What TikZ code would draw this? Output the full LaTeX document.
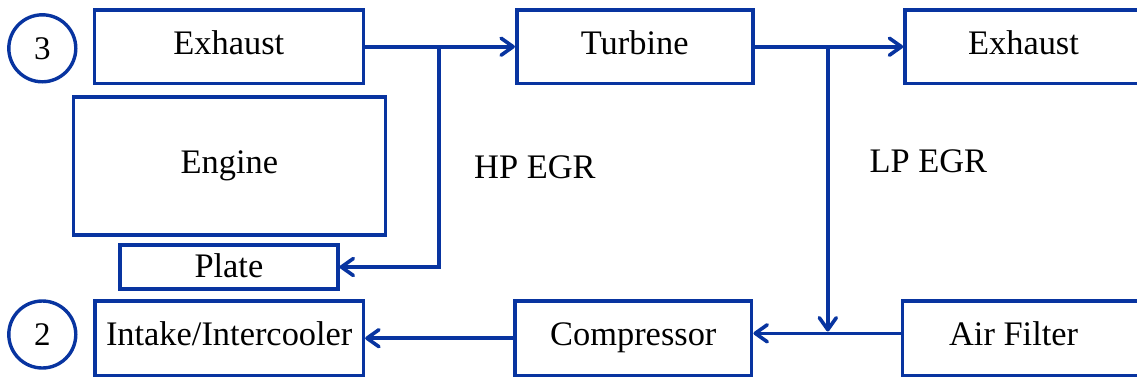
\documentclass[tikz,border=0pt]{standalone}
\usepackage{fontspec}
\setmainfont{Liberation Serif}
\usetikzlibrary{arrows.meta,calc}
\definecolor{egrblue}{RGB}{8,52,160}
\begin{document}
\begin{tikzpicture}[x=1pt,y=-1pt,
  font=\fontsize{34.4pt}{40pt}\selectfont,
  blk/.style={draw=egrblue, line width=3.6pt, rectangle, inner sep=0pt,
    text height=23.2pt, text depth=8.2pt, text=black},
  ring/.style={draw=egrblue, line width=3.4pt, circle, inner sep=0pt,
    minimum size=67pt, text=black, font=\fontsize{33pt}{38pt}\selectfont},
  flow/.style={draw=egrblue, line width=3.6pt,
    -{Straight Barb[length=12pt,width=17pt,line cap=round,line join=round]}},
  lbl/.style={inner sep=0pt, anchor=base west, text=black}]
\useasboundingbox (0,0) rectangle (1137,381);

% circles
\node[ring] (c3) at (42.3,48.3) {3};
\node[ring] (c2) at (42.3,334.5) {2};

% left column
\node[blk, minimum width=269pt, minimum height=73.3pt] (exl) at (228.8,46.7) {Exhaust};
\node[blk, minimum width=312pt, minimum height=138.3pt] (eng) at (229.3,165.9) {Engine};
\node[blk, minimum width=217.7pt, minimum height=44pt, text depth=3pt] (plate) at (228.9,267) {Plate};
\node[blk, minimum width=268.3pt, minimum height=74.5pt] (intake) at (229.2,338.2) {Intake/Intercooler};

% middle column
\node[blk, minimum width=236pt, minimum height=73.3pt] (tur) at (634.7,46.7) {Turbine};
\node[blk, minimum width=236.7pt, minimum height=74.5pt] (comp) at (633.3,338.2) {Compressor};

% right column (cut by the right border)
\node[blk, minimum width=237pt, minimum height=73.3pt] (exr) at (1023.5,46.7) {Exhaust};
\node[blk, minimum width=239.7pt, minimum height=74.5pt,
  label={[xshift=-8.6pt, inner sep=0pt, text height=23.2pt, text depth=8.2pt, text=black]center:Air Filter}] (af) at (1022.2,338.2) {};

% labels
\node[lbl] (hp) at (474,178.3) {HP EGR};
\node[lbl] (lp) at (869.3,172.3) {LP EGR};

% junction coordinates
\coordinate (hpj) at (438.7,45);
\coordinate (hpb) at (438.7,267);
\coordinate (lpj) at (827.8,46.7);
\coordinate (lpb) at (827.8,333.3);

% connectors
\draw[flow] (exl.east) -- (tur.west);
\draw[flow] (tur.east) -- (exr.west);
\draw[flow, line join=miter] (hpj) -- (hpb) -- (plate.east);
\draw[flow] (lpj) -- ($(lpb)+(0,-1.8)$);
\draw[flow] (af.west |- lpb) -- (comp.east |- lpb);
\draw[flow] (comp.west) -- (intake.east);
\end{tikzpicture}
\end{document}
